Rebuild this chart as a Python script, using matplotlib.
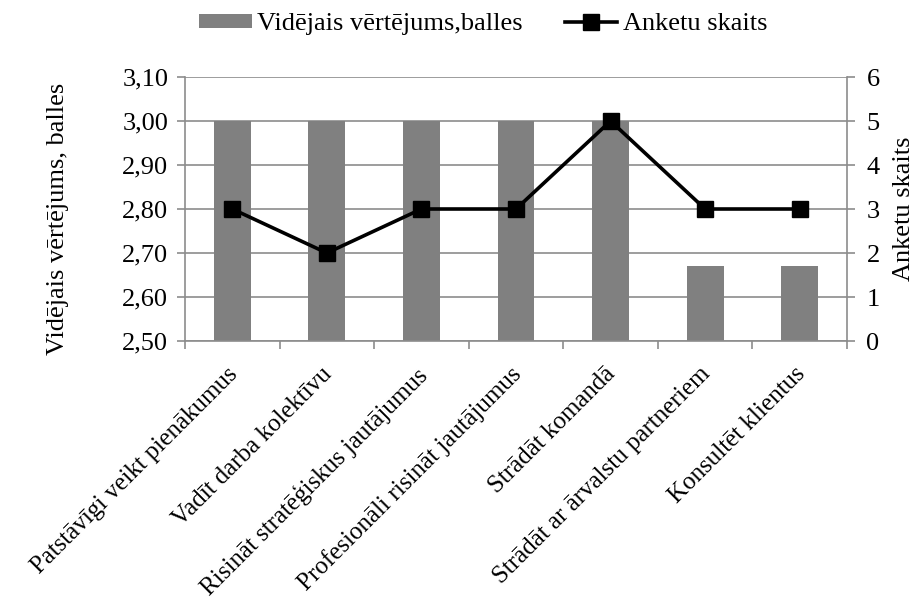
import matplotlib
matplotlib.use("Agg")
import matplotlib.pyplot as plt
import matplotlib.transforms as mtransforms
import numpy as np

plt.rcParams['font.family'] = ['Liberation Serif', 'DejaVu Serif']
FS = 19

categories = ["Patstāvīgi veikt pienākumus", "Vadīt darba kolektīvu",
              "Risināt stratēģiskus jautājumus", "Profesionāli risināt jautājumus",
              "Strādāt komandā", "Strādāt ar ārvalstu partneriem", "Konsultēt klientus"]
avg_score = [3.00, 3.00, 3.00, 3.00, 3.00, 2.67, 2.67]
n_forms = [3, 2, 3, 3, 5, 3, 3]
left_ticks = [2.50, 2.60, 2.70, 2.80, 2.90, 3.00, 3.10]
right_ticks = [0, 1, 2, 3, 4, 5, 6]

W, H = 918, 606
fig = plt.figure(figsize=(W / 100, H / 100), dpi=100)
ax = fig.add_axes([185 / W, 1 - 341 / H, 662 / W, 264 / H])
x = np.arange(len(categories))

bars = ax.bar(x, avg_score, width=0.39, color='#808080', zorder=2,
              label='Vidējais vērtējums,balles')
ax.set_ylim(2.5, 3.1)
ax.set_xlim(-0.5, len(categories) - 0.5)
ax.set_yticks(left_ticks)
ax.set_yticklabels([f"{v:.2f}".replace('.', ',') for v in left_ticks])
ax.yaxis.grid(True, color='#8c8c8c', linewidth=1.2, zorder=0)
ax.set_axisbelow(True)
ax.set_xticks(np.arange(-0.5, len(categories) + 0.5, 1))
ax.set_xticklabels([])
ax.set_xticks(x, minor=True)
ax.tick_params(axis='x', which='minor', length=0, pad=16)
ax.tick_params(axis='x', which='major', length=6, width=1.2, color='#8c8c8c', direction='out')
ax.tick_params(axis='y', length=6, width=1.2, color='#8c8c8c', labelsize=FS, pad=6)
ax.set_xticklabels(categories, minor=True, rotation=45, ha='right', va='top',
                   rotation_mode='anchor', fontsize=18)
# nudge the slanted labels a little to the left (after tick_params, which resets transforms)
shift = mtransforms.ScaledTranslation(-6 / 100, 0, fig.dpi_scale_trans)
for lab in ax.get_xticklabels(minor=True):
    lab.set_transform(lab.get_transform() + shift)
for s in ['top', 'right']:
    ax.spines[s].set_visible(False)
for s in ['left', 'bottom']:
    ax.spines[s].set_color('#8c8c8c')
    ax.spines[s].set_linewidth(1.2)

ax2 = ax.twinx()
line, = ax2.plot(x, n_forms, color='black', linewidth=2.6, marker='s',
                 markersize=11, label='Anketu skaits', zorder=3)
ax2.set_ylim(0, 6)
ax2.set_yticks(right_ticks)
ax2.tick_params(axis='y', length=6, width=1.2, color='#8c8c8c', labelsize=FS, pad=8)
for s in ['top', 'left', 'bottom']:
    ax2.spines[s].set_visible(False)
ax2.spines['right'].set_color('#8c8c8c')
ax2.spines['right'].set_linewidth(1.2)

fig.text(58 / W, 1 - 219 / H, 'Vidējais vērtējums, balles', rotation=90,
         ha='center', va='center', fontsize=FS)
fig.text(904 / W, 1 - 209 / H, 'Anketu skaits', rotation=90,
         ha='center', va='center', fontsize=FS)

fig.legend(handles=[bars, line], loc='center', bbox_to_anchor=(483 / W, 1 - 24 / H),
           ncol=2, frameon=False, fontsize=FS, handlelength=2.0, handleheight=0.45,
           columnspacing=1.6, handletextpad=0.2, borderaxespad=0)

fig.savefig('out.png', dpi=100)
